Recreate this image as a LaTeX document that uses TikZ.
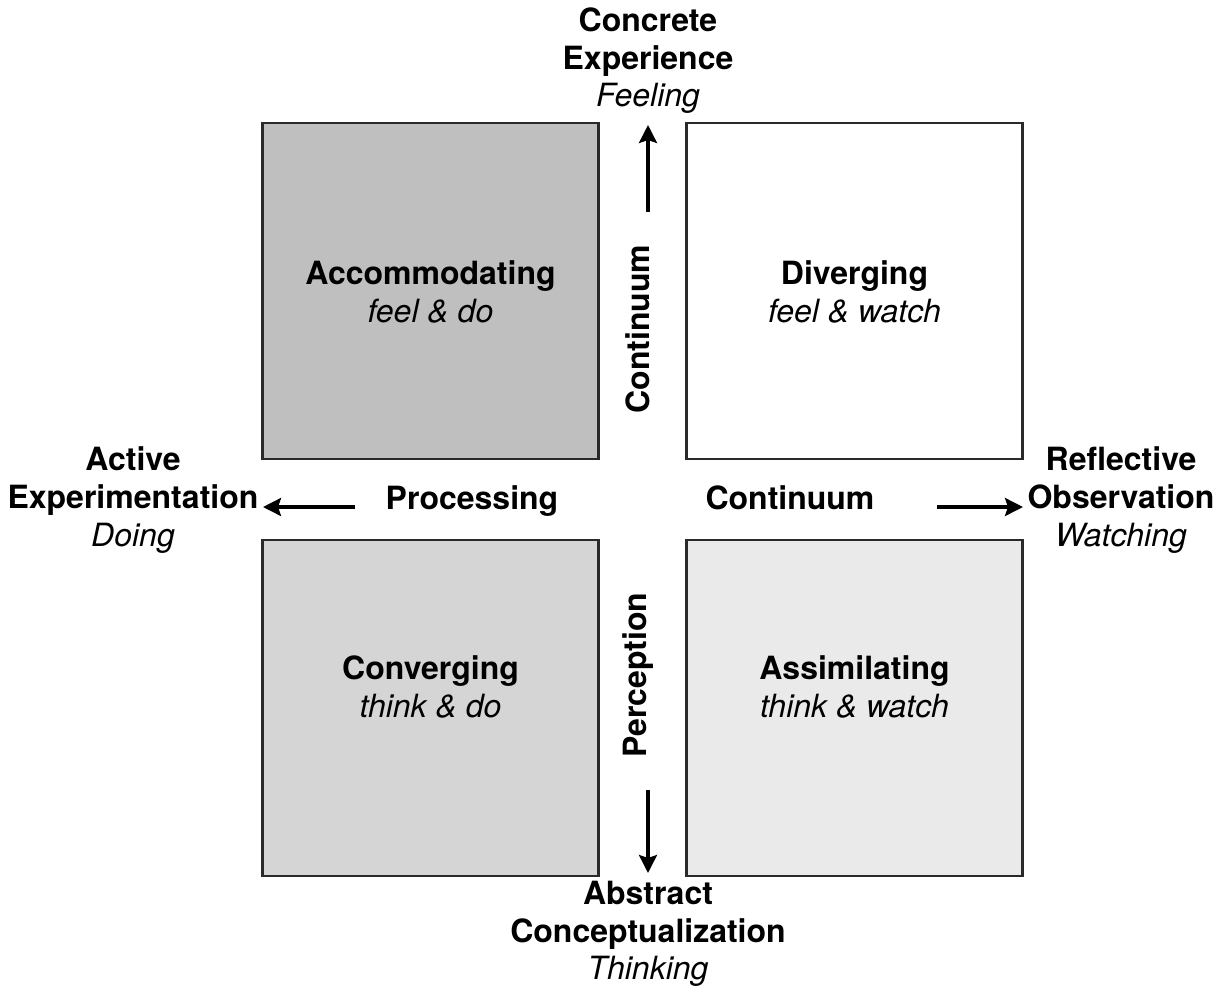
\documentclass[tikz,border=0pt]{standalone}
\usepackage{fontspec}
\setmainfont{TeX Gyre Heros}
\usetikzlibrary{arrows.meta}
\definecolor{quadA}{HTML}{BFBFBF}
\definecolor{quadB}{HTML}{FFFFFF}
\definecolor{quadC}{HTML}{D5D5D5}
\definecolor{quadD}{HTML}{EAEAEA}
\definecolor{edge}{HTML}{2A2A2A}
\begin{document}
\begin{tikzpicture}[x=0.5pt,y=-0.5pt,
  quad/.style={draw=edge,line width=1.1pt,minimum width=168pt,minimum height=168pt,inner sep=0pt},
  lbl/.style={align=center,inner sep=0pt,font=\fontsize{16}{18.8}\selectfont},
  axis/.style={line width=1.6pt,-{Stealth[length=9pt,width=9pt,inset=1.5pt]}}]
\useasboundingbox[fill=white] (0,0) rectangle (1226,991);

% the four learning-style quadrants
\node[quad,fill=quadA] (acc) at (430.5,291) {};
\node[quad,fill=quadB] (div) at (854.5,291) {};
\node[quad,fill=quadC] (con) at (430.5,708) {};
\node[quad,fill=quadD] (ass) at (854.5,708) {};

% quadrant names
\node[lbl] (accT) at (430.5,292) {\textbf{Accommodating}\\\textit{feel \& do}};
\node[lbl] (divT) at (854.5,292) {\textbf{Diverging}\\\textit{feel \& watch}};
\node[lbl] (conT) at (430.5,687) {\textbf{Converging}\\\textit{think \& do}};
\node[lbl] (assT) at (854.5,687) {\textbf{Assimilating}\\\textit{think \& watch}};

% poles of the two axes
\node[lbl] (ce) at (648,61) {\textbf{Concrete}\\\textbf{Experience}\\\textit{Feeling}};
\node[lbl] (ac) at (648,934) {\textbf{Abstract}\\\textbf{Conceptualization}\\\textit{Thinking}};
\node[lbl] (ae) at (133,500) {\textbf{Active}\\\textbf{Experimentation}\\\textit{Doing}};
\node[lbl] (ro) at (1121,500) {\textbf{Reflective}\\\textbf{Observation}\\\textit{Watching}};

% axis names
\node[lbl,rotate=90] (pc1) at (638,329) {\textbf{Continuum}};
\node[lbl,rotate=90] (pc2) at (638,675) {\textbf{Perception}};
\node[lbl,anchor=base] (pr1) at (472,509) {\textbf{Processing}};
\node[lbl,anchor=base] (pr2) at (790,509) {\textbf{Continuum}};

% arrows towards the poles
\coordinate (upS) at (648,212);
\coordinate (upE) at (648,125);
\coordinate (dnS) at (648,790);
\coordinate (dnE) at (648,873);
\coordinate (lfS) at (355,507);
\coordinate (lfE) at (263,507);
\coordinate (rtS) at (937,507);
\coordinate (rtE) at (1023,507);
\draw[axis] (upS) -- (upE);
\draw[axis] (dnS) -- (dnE);
\draw[axis] (lfS) -- (lfE);
\draw[axis] (rtS) -- (rtE);
\end{tikzpicture}
\end{document}
